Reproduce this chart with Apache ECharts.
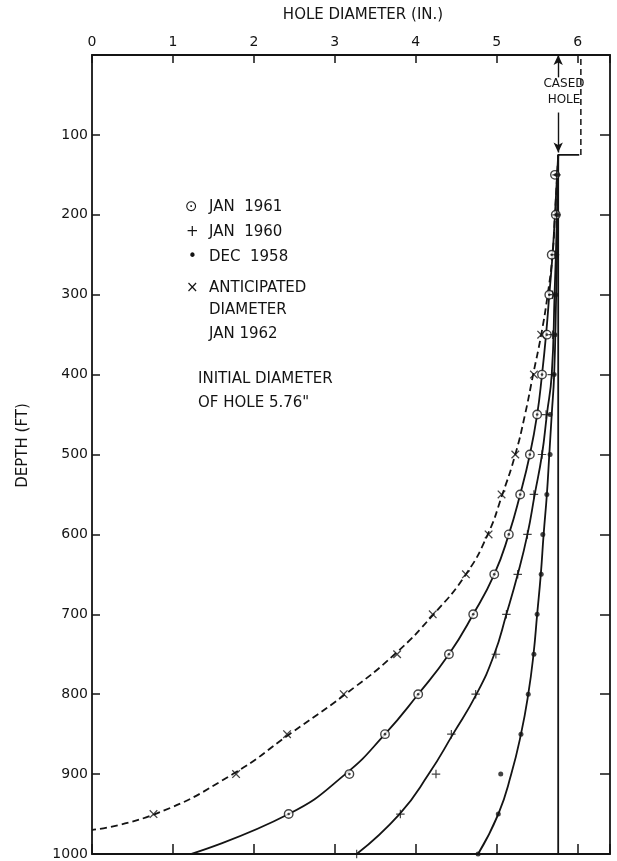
<!DOCTYPE html>
<html>
<head>
<meta charset="utf-8">
<script src="https://cdn.jsdelivr.net/npm/echarts@6/dist/echarts.min.js"></script>
<style>
  html, body { margin: 0; padding: 0; background: #fff; }
  #chart { width: 617px; height: 861px; }
</style>
</head>
<body>
<div id="chart"></div>
<script>
// depths (ft) of the plotted points
const depths = [150, 200, 250, 300, 350, 400, 450, 500, 550, 600, 650, 700, 750, 800, 850, 900, 950, 1000];

// measured diameters (in.) at those depths
const jan1961 = [5.72, 5.73, 5.68, 5.65, 5.62, 5.56, 5.50, 5.41, 5.29, 5.15, 4.97, 4.71, 4.41, 4.03, 3.62, 3.18, 2.43, null];
const jan1960 = [5.74, 5.74, 5.72, 5.69, 5.69, 5.68, 5.61, 5.56, 5.46, 5.38, 5.26, 5.12, 4.99, 4.74, 4.44, 4.25, 3.81, 3.27];
const dec1958 = [5.75, 5.75, 5.74, 5.73, 5.72, 5.71, 5.66, 5.66, 5.62, 5.57, 5.55, 5.50, 5.46, 5.39, 5.30, 5.05, 5.02, 4.77];
const anticipated1962 = [null, null, null, null, 5.55, 5.46, null, 5.23, 5.06, 4.90, 4.62, 4.21, 3.77, 3.11, 2.41, 1.78, 0.76, null];

// drawn (faired) curves: [diameter, depth]
const curve1961 = [[5.76, 125], [5.72, 200], [5.69, 250], [5.65, 300], [5.61, 350], [5.56, 400], [5.50, 450], [5.41, 500], [5.29, 550], [5.15, 600], [4.97, 650], [4.71, 700], [4.41, 750], [4.03, 800], [3.62, 850], [3.13, 900], [2.43, 950], [1.22, 1000]];
const curve1960 = [[5.76, 125], [5.745, 200], [5.715, 300], [5.68, 400], [5.62, 450], [5.56, 500], [5.47, 550], [5.38, 600], [5.26, 650], [5.12, 700], [4.97, 750], [4.75, 800], [4.46, 850], [4.16, 900], [3.80, 950], [3.27, 1000]];
const curve1958 = [[5.76, 125], [5.755, 200], [5.735, 300], [5.71, 400], [5.68, 450], [5.65, 500], [5.62, 550], [5.58, 600], [5.545, 650], [5.50, 700], [5.455, 750], [5.39, 800], [5.30, 850], [5.18, 900], [5.02, 950], [4.77, 1000]];
const curve1962 = [[5.76, 125], [5.72, 200], [5.69, 250], [5.63, 300], [5.55, 350], [5.45, 400], [5.35, 450], [5.23, 500], [5.07, 550], [4.89, 600], [4.62, 650], [4.22, 700], [3.74, 750], [3.13, 800], [2.44, 850], [1.74, 900], [0.78, 950], [0, 970]];

// casing
const initialDiameter = 5.76;
const casingDiameter = 6.04;
const casingDepth = 125;

const xTicks = [0, 1, 2, 3, 4, 5, 6];
const yTicks = [100, 200, 300, 400, 500, 600, 700, 800, 900, 1000];

const ink = '#141414';
const font = 'DejaVu Sans';

function pts(vals) {
    const out = [];
    vals.forEach(function (v, i) {
        if (v !== null) out.push([v, depths[i]]);
    });
    return out;
}

const plusPath = 'path://M-0.7,-5 L0.7,-5 L0.7,-0.7 L5,-0.7 L5,0.7 L0.7,0.7 L0.7,5 L-0.7,5 L-0.7,0.7 L-5,0.7 L-5,-0.7 L-0.7,-0.7 Z';
const crossPath = 'path://M-4.2,-3.3 L-3.3,-4.2 L0,-0.9 L3.3,-4.2 L4.2,-3.3 L0.9,0 L4.2,3.3 L3.3,4.2 L0,0.9 L-3.3,4.2 L-4.2,3.3 L-0.9,0 Z';

const myChart = echarts.init(document.getElementById('chart'));

function curveSeries(data, dashed) {
    return {
        type: 'line',
        data: data,
        smooth: 0.5,
        symbol: 'none',
        silent: true,
        lineStyle: { color: ink, width: 1.8, type: dashed ? [7, 4] : 'solid' },
        z: 2
    };
}

const axisLine = { show: true, onZero: false, lineStyle: { color: ink, width: 1.8 } };

const option = {
    backgroundColor: '#fff',
    animation: false,
    grid: { left: 92, right: 7, top: 55, bottom: 6 },
    xAxis: [
        {
            type: 'value', position: 'top', min: 0, max: 6.4, interval: 1,
            name: 'HOLE DIAMETER (IN.)', nameLocation: 'middle', nameGap: 32,
            nameTextStyle: { fontFamily: font, fontSize: 15, color: ink, padding: [0, 0, 0, 24] },
            axisLine: axisLine,
            axisTick: { inside: true, length: 8, lineStyle: { color: ink, width: 1.5 } },
            axisLabel: {
                margin: 6, fontFamily: font, fontSize: 14, color: ink,
                formatter: function (v) { return xTicks.indexOf(v) >= 0 ? String(v) : ''; }
            },
            splitLine: { show: false }
        },
        {
            type: 'value', position: 'bottom', min: 0, max: 6.4, interval: 1,
            axisLine: axisLine,
            axisTick: { inside: true, length: 10, lineStyle: { color: ink, width: 1.5 } },
            axisLabel: { show: false },
            splitLine: { show: false }
        }
    ],
    yAxis: [
        {
            type: 'value', inverse: true, position: 'left', min: 0, max: 1000, interval: 100,
            name: 'DEPTH (FT)', nameLocation: 'middle', nameGap: 61, nameRotate: 90,
            nameTextStyle: { fontFamily: font, fontSize: 15, color: ink, padding: [0, 0, 0, 18] },
            axisLine: axisLine,
            axisTick: { inside: true, length: 8, lineStyle: { color: ink, width: 1.5 } },
            axisLabel: {
                margin: 4, fontFamily: font, fontSize: 14, color: ink,
                formatter: function (v) { return yTicks.indexOf(v) >= 0 ? String(v) : ''; }
            },
            splitLine: { show: false }
        },
        {
            type: 'value', inverse: true, position: 'right', min: 0, max: 1000, interval: 100,
            axisLine: axisLine,
            axisTick: { inside: true, length: 10, lineStyle: { color: ink, width: 1.5 } },
            axisLabel: { show: false },
            splitLine: { show: false }
        }
    ],
    series: [
        curveSeries(curve1961, false),
        curveSeries(curve1960, false),
        curveSeries(curve1958, false),
        curveSeries(curve1962, true),
        // initial hole wall and casing shoe
        {
            type: 'line', silent: true, symbol: 'none',
            data: [[initialDiameter, 1000], [initialDiameter, casingDepth], [casingDiameter - 0.02, casingDepth]],
            lineStyle: { color: ink, width: 1.8 },
            markLine: {
                silent: true,
                symbol: ['none', 'arrow'],
                symbolSize: [7, 10],
                label: { show: false },
                lineStyle: { color: ink, width: 1.4, type: 'solid' },
                data: [
                    [{ coord: [initialDiameter, 28] }, { coord: [initialDiameter, 0] }],
                    [{ coord: [initialDiameter, 72] }, { coord: [initialDiameter, casingDepth - 3] }]
                ]
            },
            z: 1
        },
        {
            type: 'line', silent: true, symbol: 'none',
            data: [[casingDiameter, casingDepth], [casingDiameter, 0]],
            lineStyle: { color: ink, width: 1.5, type: [6, 4] },
            z: 1
        },
        // markers
        {
            type: 'scatter', data: pts(jan1961), symbol: 'circle', symbolSize: 8.5,
            itemStyle: { color: '#fff', borderColor: ink, borderWidth: 1.4 }, z: 5
        },
        {
            type: 'scatter', data: pts(jan1961), symbol: 'circle', symbolSize: 2.6,
            itemStyle: { color: ink }, z: 6
        },
        {
            type: 'scatter', data: pts(jan1960), symbol: plusPath, symbolSize: 8.5,
            itemStyle: { color: ink }, z: 5
        },
        {
            type: 'scatter', data: pts(dec1958), symbol: 'circle', symbolSize: 5,
            itemStyle: { color: ink }, z: 5
        },
        {
            type: 'scatter', data: pts(anticipated1962), symbol: crossPath, symbolSize: 8.5,
            itemStyle: { color: ink }, z: 5
        }
    ],
    graphic: []
};

function txt(x, y, s, size) {
    return {
        type: 'text', x: x, y: y, silent: true,
        style: {
            text: s, fill: ink, font: (size || 15) + 'px "' + font + '"',
            textVerticalAlign: 'middle', verticalAlign: 'middle'
        }
    };
}
function ctxt(x, y, s, size) {
    const t = txt(x, y, s, size);
    t.style.textAlign = 'center';
    t.style.align = 'center';
    return t;
}

option.graphic = [
    txt(185, 207, '\u2299'),
    txt(209, 207, 'JAN  1961'),
    txt(186, 232, '+'),
    txt(209, 232, 'JAN  1960'),
    txt(188, 257, '\u2022'),
    txt(209, 257, 'DEC  1958'),
    txt(186, 288, '\u00d7'),
    txt(209, 288, 'ANTICIPATED'),
    txt(209, 310, 'DIAMETER'),
    txt(209, 334, 'JAN 1962'),
    txt(198, 379, 'INITIAL DIAMETER'),
    txt(198, 403, 'OF HOLE 5.76"'),
    ctxt(564, 84, 'CASED', 12),
    ctxt(564, 100, 'HOLE', 12)
];

myChart.setOption(option);
</script>
</body>
</html>
